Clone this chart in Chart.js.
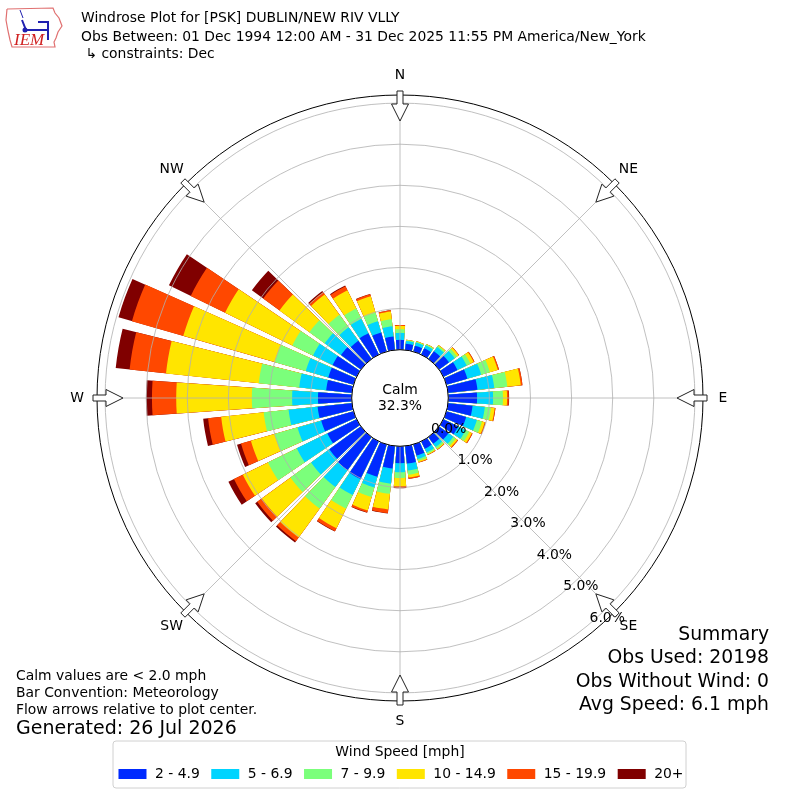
<!DOCTYPE html>
<html>
<head>
<meta charset="utf-8">
<script src="https://cdn.jsdelivr.net/npm/chart.js@4.4.0/dist/chart.umd.min.js"></script>
<style>html,body{margin:0;padding:0;background:#fff}canvas{display:block}</style>
</head>
<body>
<canvas id="c" width="800" height="800"></canvas>
<script>
// ---------------- data ----------------
const DIRECTIONS = [0,10,20,30,40,50,60,70,80,90,100,110,120,130,140,150,160,170,180,190,200,210,220,230,240,250,260,270,280,290,300,310,320,330,340,350];
const COMPASS = ['N','NE','E','SE','S','SW','W','NW'];
const SPEED_BINS = ['2 - 4.9','5 - 6.9','7 - 9.9','10 - 14.9','15 - 19.9','20+'];
const BIN_COLORS = ['#002aff','#00d4ff','#7bff7b','#ffe500','#ff4800','#800000'];
// frequency (% of obs) per direction for each speed bin
const FREQ_2_5   = [0.24,0.15,0.15,0.17,0.23,0.30,0.38,0.53,0.72,0.70,0.60,0.50,0.40,0.28,0.20,0.20,0.28,0.43,0.41,0.55,0.82,1.02,1.00,0.95,0.79,0.82,0.84,0.82,0.63,0.64,0.65,0.60,0.55,0.58,0.48,0.33];
const FREQ_5_7   = [0.17,0.07,0.08,0.08,0.13,0.17,0.25,0.35,0.41,0.39,0.30,0.27,0.20,0.15,0.10,0.10,0.09,0.17,0.22,0.37,0.27,0.43,0.50,0.55,0.83,0.60,0.71,0.63,0.66,0.57,0.53,0.49,0.40,0.39,0.29,0.25];
const FREQ_7_10  = [0.09,0.02,0.02,0.03,0.04,0.07,0.10,0.22,0.32,0.24,0.15,0.13,0.10,0.07,0.05,0.04,0.05,0.10,0.14,0.25,0.24,0.37,0.65,0.62,0.78,0.58,0.61,0.98,0.99,0.78,0.56,0.46,0.38,0.28,0.22,0.17];
const FREQ_10_15 = [0.08,0.01,0.01,0.01,0.02,0.05,0.09,0.20,0.33,0.10,0.09,0.07,0.07,0.05,0.02,0.02,0.03,0.07,0.20,0.38,0.34,0.53,0.87,0.86,0.68,0.60,1.04,1.84,2.27,2.32,1.82,0.90,0.61,0.49,0.41,0.19];
const FREQ_15_20 = [0.02,0.00,0.00,0.00,0.00,0.01,0.02,0.03,0.04,0.04,0.02,0.02,0.02,0.02,0.01,0.01,0.01,0.03,0.04,0.09,0.05,0.08,0.11,0.14,0.24,0.25,0.32,0.59,0.89,1.30,0.93,0.49,0.07,0.11,0.05,0.03];
const FREQ_20P   = [0.00,0.00,0.00,0.00,0.00,0.00,0.00,0.00,0.00,0.01,0.00,0.00,0.00,0.00,0.00,0.00,0.00,0.00,0.01,0.01,0.01,0.01,0.04,0.06,0.15,0.10,0.12,0.14,0.34,0.34,0.59,0.34,0.03,0.02,0.01,0.00];
const RADIAL_TICKS = [0,1,2,3,4,5,6];
const CALM_PCT = 32.3;
const TITLE_LINES = ['Windrose Plot for [PSK] DUBLIN/NEW RIV VLLY',
                     'Obs Between: 01 Dec 1994 12:00 AM - 31 Dec 2025 11:55 PM America/New_York',
                     ' \u21b3 constraints: Dec'];
const NOTES = ['Calm values are < 2.0 mph','Bar Convention: Meteorology','Flow arrows relative to plot center.'];
const GENERATED = 'Generated: 26 Jul 2026';
const SUMMARY = ['Summary','Obs Used: 20198','Obs Without Wind: 0','Avg Speed: 6.1 mph'];
const LEGEND_TITLE = 'Wind Speed [mph]';

// ---------------- build ----------------
const BINS = [FREQ_2_5, FREQ_5_7, FREQ_7_10, FREQ_10_15, FREQ_15_20, FREQ_20P];
const STEP = 360 / DIRECTIONS.length;
const OPENING = 0.8;               // bar width as fraction of sector
const BAR = STEP * OPENING, GAP = STEP - BAR;
// cumulative (stacked) totals per bin
const CUM = BINS.map((_, j) => DIRECTIONS.map((d, k) => {
  let s = 0; for (let i = 0; i <= j; i++) s += BINS[i][k]; return +s.toFixed(3);
}));
// element layout: half of the north bar, gap, [bar, gap] x 35, other half of north bar
const ANGLES = [BAR / 2, GAP];
const isGap = [false, true];
const dirIndex = [0, -1];
for (let k = 1; k < DIRECTIONS.length; k++) { ANGLES.push(BAR, GAP); isGap.push(false, true); dirIndex.push(k, -1); }
ANGLES.push(BAR / 2); isGap.push(false); dirIndex.push(0);

const datasets = CUM.map((cum, j) => ({
  label: SPEED_BINS[j],
  data: dirIndex.map(k => k < 0 ? null : cum[k]),
  backgroundColor: ctx => isGap[ctx.dataIndex] ? 'rgba(0,0,0,0)' : BIN_COLORS[j],
  borderWidth: 0,
  angle: ctx => ANGLES[ctx.dataIndex]
}));

const FONT = '"DejaVu Sans", "Liberation Sans", sans-serif';
const f = (px) => px + 'px ' + FONT;

const decor = {
  id: 'windroseDecor',
  beforeDraw(chart) {
    const c = chart.ctx; c.save(); c.fillStyle = '#fff'; c.fillRect(0, 0, chart.width, chart.height); c.restore();
  },
  afterDraw(chart) {
    const ctx = chart.ctx, s = chart.scales.r;
    const xc = s.xCenter, yc = s.yCenter, D = s.drawingArea;
    ctx.save();
    // outer frame
    ctx.beginPath(); ctx.arc(xc, yc, D, 0, Math.PI * 2);
    ctx.strokeStyle = '#000'; ctx.lineWidth = 1; ctx.stroke();
    // calm circle
    const r0 = s.getDistanceFromCenterForValue(0);
    ctx.beginPath(); ctx.arc(xc, yc, r0, 0, Math.PI * 2);
    ctx.fillStyle = '#fff'; ctx.fill(); ctx.strokeStyle = '#000'; ctx.lineWidth = 1; ctx.stroke();
    ctx.fillStyle = '#000'; ctx.font = f(13.9); ctx.textAlign = 'center'; ctx.textBaseline = 'middle';
    ctx.fillText('Calm', xc, yc - 7.5);
    ctx.fillText(CALM_PCT.toFixed(1) + '%', xc, yc + 8.5);
    // radial tick labels along bearing 140
    const la = (140 - 90) * Math.PI / 180;
    ctx.textAlign = 'left'; ctx.textBaseline = 'bottom';
    RADIAL_TICKS.forEach(v => {
      const r = s.getDistanceFromCenterForValue(v);
      ctx.fillText(v.toFixed(1) + '%', xc + r * Math.cos(la), yc + r * Math.sin(la) + 1);
    });
    // compass arrows + labels
    ctx.textAlign = 'center'; ctx.textBaseline = 'middle';
    chart.data.labels.forEach((lab, i) => {
      const a = s.getIndexAngle(i) - Math.PI / 2;
      const pts = [[D + 4, -3], [D - 9, -3], [D - 9, -8.5], [D - 26, 0], [D - 9, 8.5], [D - 9, 3], [D + 4, 3]];
      ctx.beginPath();
      pts.forEach(([r, t], n) => {
        const x = xc + r * Math.cos(a) - t * Math.sin(a), y = yc + r * Math.sin(a) + t * Math.cos(a);
        n ? ctx.lineTo(x, y) : ctx.moveTo(x, y);
      });
      ctx.closePath(); ctx.fillStyle = '#fff'; ctx.fill();
      ctx.strokeStyle = '#222'; ctx.lineWidth = 1; ctx.stroke();
      const p = s.getPointPosition(i, D + 20);
      ctx.fillStyle = '#000'; ctx.font = f(13.9);
      ctx.fillText(lab, p.x, p.y);
    });
    // title
    ctx.textAlign = 'left'; ctx.textBaseline = 'middle'; ctx.font = f(13.9); ctx.fillStyle = '#000';
    ctx.fillText(TITLE_LINES[0], 81, 18);
    ctx.fillText(TITLE_LINES[1], 81, 37);
    ctx.fillText(TITLE_LINES[2], 81, 54);
    // logo
    ctx.strokeStyle = '#e07070'; ctx.lineWidth = 1.2;
    ctx.beginPath();
    [[7,9],[53,8],[55,13],[59,18],[62,26],[58,32],[56,38],[54,42],[55,47],[12,47],[10,40],[8,31],[6,20],[7,9]]
      .forEach(([x, y], n) => n ? ctx.lineTo(x, y) : ctx.moveTo(x, y));
    ctx.stroke();
    ctx.strokeStyle = '#2020b0'; ctx.fillStyle = '#2020b0'; ctx.lineWidth = 2;
    ctx.beginPath(); ctx.moveTo(22, 20); ctx.lineTo(26, 30); ctx.lineTo(48, 30); ctx.stroke();
    ctx.beginPath(); ctx.moveTo(38, 22); ctx.lineTo(48, 22); ctx.lineTo(48, 40); ctx.stroke();
    ctx.beginPath(); ctx.arc(25, 30, 2.5, 0, Math.PI * 2); ctx.fill();
    ctx.lineWidth = 1;
    ctx.beginPath(); ctx.moveTo(20, 10); ctx.lineTo(23, 18); ctx.stroke();
    ctx.fillStyle = '#d02020'; ctx.font = 'italic 17px "Liberation Serif", "DejaVu Serif", serif';
    ctx.textBaseline = 'alphabetic'; ctx.fillText('IEM', 14, 45);
    // notes
    ctx.fillStyle = '#000'; ctx.textBaseline = 'middle'; ctx.font = f(13.9);
    NOTES.forEach((t, i) => ctx.fillText(t, 16, 676 + 17 * i));
    ctx.font = f(19); ctx.fillText(GENERATED, 16, 729);
    // summary
    ctx.textAlign = 'right'; ctx.font = f(18.8);
    SUMMARY.forEach((t, i) => ctx.fillText(t, 769, 635 + 23.5 * i));
    // legend
    const bx = 113, by = 741, bw = 573, bh = 47;
    ctx.beginPath(); ctx.roundRect(bx, by, bw, bh, 3);
    ctx.fillStyle = '#fff'; ctx.fill(); ctx.strokeStyle = '#d0d0d0'; ctx.lineWidth = 1; ctx.stroke();
    ctx.fillStyle = '#000'; ctx.textAlign = 'center'; ctx.font = f(13.9);
    ctx.fillText(LEGEND_TITLE, 400, 752);
    ctx.textAlign = 'left';
    const widths = SPEED_BINS.map(t => 28 + 8.5 + ctx.measureText(t).width);
    const colsep = 11.5;
    const total = widths.reduce((a, b) => a + b, 0) + colsep * (widths.length - 1);
    let x = 401 - total / 2;
    SPEED_BINS.forEach((t, i) => {
      ctx.fillStyle = BIN_COLORS[i]; ctx.fillRect(x, 769, 28, 10);
      ctx.fillStyle = '#000'; ctx.fillText(t, x + 36.5, 774.5);
      x += widths[i] + colsep;
    });
    ctx.restore();
  }
};

new Chart(document.getElementById('c'), {
  type: 'polarArea',
  data: { labels: COMPASS, datasets },
  options: {
    responsive: false,
    animation: false,
    events: [],
    layout: { padding: { left: 97, right: 97, top: 95, bottom: 99 } },
    plugins: { legend: { display: false }, tooltip: { enabled: false }, title: { display: false } },
    scales: {
      r: {
        type: 'radialLinear',
        min: -1.175, max: 6.197, startAngle: 0, bounds: 'data',
        ticks: { display: false },
        grid: { display: true, circular: true, color: '#b0b0b0', lineWidth: 0.8, z: 1 },
        angleLines: { display: true, color: '#b0b0b0', lineWidth: 0.8 },
        pointLabels: { display: false },
        afterBuildTicks: (sc) => { sc.ticks = RADIAL_TICKS.map(v => ({ value: v })); }
      }
    }
  },
  plugins: [decor]
});
</script>
</body>
</html>
